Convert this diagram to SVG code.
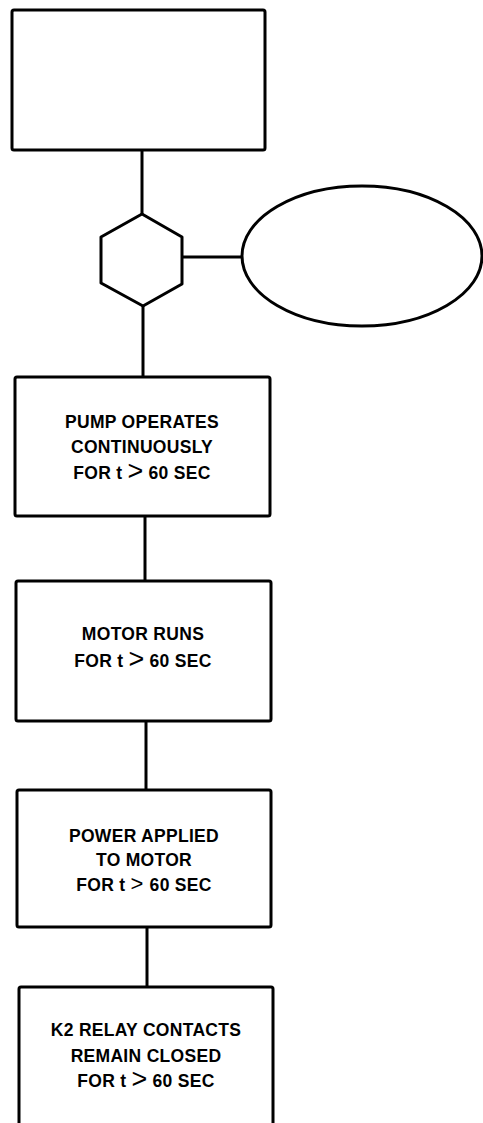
<svg xmlns="http://www.w3.org/2000/svg" width="483" height="1123" viewBox="0 0 483 1123">
<style>
.n{fill:#fff;stroke:#000;stroke-width:3;stroke-linejoin:round}
.c{stroke:#000;stroke-width:3;fill:none}
.t{font-family:"Liberation Sans",Arial,sans-serif;font-weight:bold;font-size:17.5px;letter-spacing:0.3px;text-anchor:middle;fill:#000}
.g{font-weight:normal;font-size:27px;letter-spacing:0}
.s{font-weight:normal;font-size:22px;letter-spacing:1px}
</style>
<rect width="483" height="1123" fill="#fff"/>
<g id="connectors">
<line class="c" x1="142" y1="150" x2="142" y2="214"/>
<line class="c" x1="182" y1="257" x2="242" y2="257"/>
<line class="c" x1="143" y1="306" x2="143" y2="377"/>
<line class="c" x1="145" y1="516" x2="145" y2="581"/>
<line class="c" x1="146" y1="721" x2="146" y2="790"/>
<line class="c" x1="147" y1="927" x2="147" y2="987"/>
</g>
<g id="top-box"><rect class="n" x="12" y="10" width="253" height="140" rx="2"/></g>
<g id="hexagon"><polygon class="n" points="142,214 182,237 182,284 143,306 101,283 101,237"/></g>
<g id="ellipse"><ellipse class="n" cx="362" cy="256" rx="120" ry="70"/></g>
<g id="pump">
<rect class="n" x="15" y="377" width="255" height="139" rx="2"/>
<text class="t" x="142" y="428">PUMP OPERATES</text>
<text class="t" x="142" y="453">CONTINUOUSLY</text>
<text class="t" x="142" y="479">FOR t <tspan class="g" dy="1">&gt;</tspan><tspan dy="-1"> 60 SEC</tspan></text>
</g>
<g id="motor">
<rect class="n" x="16" y="581" width="255" height="140" rx="2"/>
<text class="t" x="143" y="640">MOTOR RUNS</text>
<text class="t" x="143" y="667">FOR t <tspan class="g" dy="1">&gt;</tspan><tspan dy="-1"> 60 SEC</tspan></text>
</g>
<g id="power">
<rect class="n" x="17" y="790" width="254" height="137" rx="2"/>
<text class="t" x="144" y="842">POWER APPLIED</text>
<text class="t" x="144" y="866">TO MOTOR</text>
<text class="t" x="144" y="891">FOR t <tspan class="s">&gt;</tspan> 60 SEC</text>
</g>
<g id="relay">
<rect class="n" x="19" y="987" width="254" height="150" rx="2"/>
<text class="t" x="146" y="1036">K2 RELAY CONTACTS</text>
<text class="t" x="146" y="1062">REMAIN CLOSED</text>
<text class="t" x="146" y="1087">FOR t <tspan class="g" dy="1">&gt;</tspan><tspan dy="-1"> 60 SEC</tspan></text>
</g>
</svg>
